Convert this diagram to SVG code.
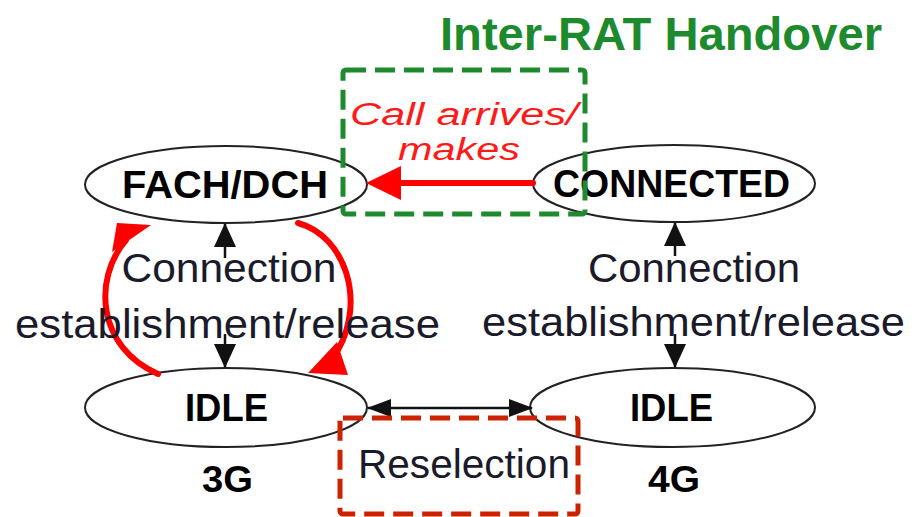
<svg xmlns="http://www.w3.org/2000/svg" width="912" height="517" viewBox="0 0 912 517">
<style>
.node{fill:#ffffff;stroke:#222222;stroke-width:2}
.nt{font-family:"Liberation Sans",Arial,sans-serif;font-weight:bold;fill:#000000;text-anchor:middle}
.lt{font-family:"Liberation Sans",Arial,sans-serif;fill:#1a1a2a;text-anchor:middle;font-size:40px}
.ct{font-family:"Liberation Sans",Arial,sans-serif;font-style:italic;font-size:31px;fill:#ff1a1a;text-anchor:middle}
.blk{stroke:#111111;stroke-width:2.5;fill:none}
.red{stroke:#ff0000;stroke-width:6;fill:none;stroke-linecap:round}
.redfill{fill:#ff0000}
.box{fill:none;stroke-width:5;stroke-dasharray:20 9}
</style>
<defs>
<marker id="ah" markerUnits="userSpaceOnUse" markerWidth="24" markerHeight="24" refX="23" refY="11" orient="auto">
<path d="M0,0 L24,11 L0,22 Z" fill="#111111"/>
</marker>
<marker id="ahs" markerUnits="userSpaceOnUse" markerWidth="24" markerHeight="20" refX="23" refY="9" orient="auto">
<path d="M0,0 L24,9 L0,18 Z" fill="#111111"/>
</marker>
</defs>
<rect width="912" height="517" fill="#ffffff"/>
<text x="661" y="50" font-family="Liberation Sans,Arial,sans-serif" font-weight="bold" font-size="46" fill="#1e8a2e" text-anchor="middle" textLength="442" lengthAdjust="spacingAndGlyphs">Inter-RAT Handover</text>
<g id="node-fach">
<ellipse class="node" cx="226" cy="184.5" rx="141" ry="38.5"/>
<text class="nt" x="225" y="198" font-size="38" textLength="206" lengthAdjust="spacingAndGlyphs">FACH/DCH</text>
</g>
<g id="node-connected">
<ellipse class="node" cx="674" cy="183.5" rx="141" ry="38.5"/>
<text class="nt" x="671.5" y="197" font-size="38" textLength="237" lengthAdjust="spacingAndGlyphs">CONNECTED</text>
</g>
<g id="node-idle3g">
<ellipse class="node" cx="226" cy="407.5" rx="141" ry="39.5"/>
<text class="nt" x="226.5" y="421" font-size="38" textLength="83" lengthAdjust="spacingAndGlyphs">IDLE</text>
<text class="nt" x="227.5" y="492" font-size="36" textLength="51" lengthAdjust="spacingAndGlyphs">3G</text>
</g>
<g id="node-idle4g">
<ellipse class="node" cx="672.5" cy="407.5" rx="142.5" ry="39.5"/>
<text class="nt" x="671.5" y="421" font-size="38" textLength="83" lengthAdjust="spacingAndGlyphs">IDLE</text>
<text class="nt" x="674" y="492" font-size="36" textLength="52" lengthAdjust="spacingAndGlyphs">4G</text>
</g>
<g id="connectors">
<line class="blk" x1="225" y1="258" x2="225" y2="224" marker-end="url(#ah)"/>
<line class="blk" x1="225" y1="334" x2="225" y2="367" marker-end="url(#ah)"/>
<line class="blk" x1="675" y1="256" x2="675" y2="223" marker-end="url(#ah)"/>
<line class="blk" x1="675" y1="334" x2="675" y2="367" marker-end="url(#ah)"/>
<line class="blk" x1="450" y1="408" x2="368" y2="408" marker-end="url(#ahs)"/>
<line class="blk" x1="450" y1="408" x2="532" y2="408" marker-end="url(#ahs)"/>
<line class="red" x1="533" y1="183" x2="396" y2="183" stroke-width="8" stroke-linecap="butt"/>
<polygon class="redfill" points="366,183 401,166 401,200"/>
<path class="red" d="M158,374 C98,348 92,280 126,240"/>
<polygon class="redfill" points="117,223 151,225 112,252"/>
<path class="red" d="M298,223 C345,236 366,300 338,350"/>
<polygon class="redfill" points="308,373 348,375 337,342"/>
</g>
<g id="labels">
<text class="lt" x="229" y="282" textLength="215" lengthAdjust="spacingAndGlyphs">Connection</text>
<text class="lt" x="227.5" y="338" textLength="425" lengthAdjust="spacingAndGlyphs">establishment/release</text>
<text class="lt" x="694" y="282" textLength="212" lengthAdjust="spacingAndGlyphs">Connection</text>
<text class="lt" x="693.5" y="336" textLength="423" lengthAdjust="spacingAndGlyphs">establishment/release</text>
<text class="ct" x="464" y="125" textLength="228" lengthAdjust="spacingAndGlyphs">Call arrives/</text>
<text class="ct" x="459" y="160" textLength="122" lengthAdjust="spacingAndGlyphs">makes</text>
<text class="lt" x="464" y="478" textLength="212" lengthAdjust="spacingAndGlyphs">Reselection</text>
</g>
<g id="boxes">
<rect class="box" x="343" y="70" width="242" height="144" rx="3" stroke="#1e8a2e"/>
<rect class="box" x="340" y="418" width="238" height="96" rx="3" stroke="#cc2200"/>
</g>
</svg>
